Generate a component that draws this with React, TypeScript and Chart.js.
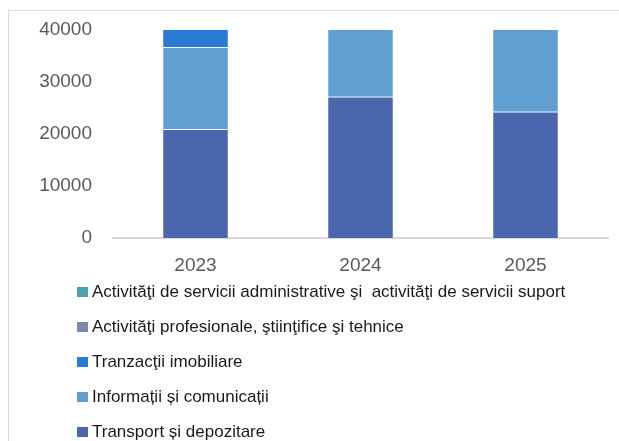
import React, { useEffect, useRef } from "react";
import { Chart, registerables } from "chart.js";

Chart.register(...registerables);

const categories = ["2023", "2024", "2025"];
const seriesNames = [
  "Transport și depozitare",
  "Informații și comunicații",
  "Tranzacţii imobiliare",
  "Activităţi profesionale, ştiinţifice şi tehnice",
  "Activităţi de servicii administrative şi  activităţi de servicii suport",
];
const transport = [20900, 27170, 24290];
const informatii = [15770, 14500, 17000];
const tranzactii = [3700, 1500, 1600];
const profesionale = [3500, 3800, 4000];
const servicii = [2500, 2700, 2900];
const seriesColors = ["#4a66ac", "#629fd1", "#2a7bd5", "#7b8ba8", "#4fa2a9"];
const yTicks = [0, 10000, 20000, 30000, 40000];

const legendPlugin = {
  id: "customLegend",
  afterDraw(chart: any) {
    const ctx = chart.ctx;
    const area = chart.chartArea;
    const ds = chart.data.datasets.slice().reverse();
    ctx.save();
    ds.forEach((d: any, i: number) => {
      const cy = area.bottom + 54 + i * 35;
      ctx.fillStyle = d.backgroundColor;
      ctx.fillRect(69, cy - 5, 11, 10);
      ctx.fillStyle = "#1a1a1a";
      ctx.font = "17px 'Liberation Sans Narrow', 'Arial Narrow', 'Liberation Sans', sans-serif";
      ctx.textBaseline = "middle";
      ctx.textAlign = "left";
      ctx.fillText(d.label, 84, cy);
    });
    ctx.restore();
  },
};

export default function App() {
  const ref = useRef<HTMLCanvasElement>(null);
  useEffect(() => {
    if (!ref.current) return;
    const values = [transport, informatii, tranzactii, profesionale, servicii];
    const chart = new Chart(ref.current, {
      type: "bar",
      data: {
        labels: categories,
        datasets: values.map((v, i) => ({
          label: seriesNames[i],
          data: v,
          backgroundColor: seriesColors[i],
          borderColor: "rgba(255,255,255,0.35)",
          borderWidth: 0.75,
          barPercentage: 0.4,
          categoryPercentage: 1,
        })),
      },
      options: {
        animation: false,
        responsive: false,
        maintainAspectRatio: false,
        layout: { padding: { top: 20, right: 11, left: 0, bottom: 0 } },
        plugins: { legend: { display: false }, tooltip: { enabled: false } },
        scales: {
          x: {
            stacked: true,
            grid: { display: false, drawTicks: false },
            border: { display: true, color: "#d9d9d9", width: 2 },
            ticks: {
              color: "#595959",
              font: { family: "'Liberation Sans', Arial, sans-serif", size: 19 },
              padding: 16,
            },
            afterFit(scale: any) {
              scale.height = 203;
            },
          },
          y: {
            stacked: true,
            min: 0,
            max: 40000,
            afterBuildTicks(scale: any) {
              scale.ticks = yTicks.map((v) => ({ value: v }));
            },
            grid: { display: false, drawTicks: false },
            border: { display: false },
            ticks: {
              color: "#595959",
              font: { family: "'Liberation Sans', Arial, sans-serif", size: 19 },
              padding: 21,
              callback: (v: any) => String(v),
            },
            afterFit(scale: any) {
              scale.width = 105;
              scale.paddingTop = 12;
              scale.paddingBottom = 12;
            },
          },
        },
      },
      plugins: [legendPlugin],
    });
    return () => chart.destroy();
  }, []);
  return (
    <div style={{ position: "fixed", left: 0, top: 0, width: 619, height: 441, overflow: "hidden", background: "#fff" }}>
      <div
        style={{
          position: "absolute",
          left: 8,
          top: 10,
          width: 640,
          height: 460,
          border: "1px solid #d9d9d9",
          boxSizing: "border-box",
        }}
      />
      <canvas
        ref={ref}
        width={611}
        height={431}
        style={{ position: "absolute", left: 8, top: 10, width: 611, height: 431 }}
      />
    </div>
  );
}
